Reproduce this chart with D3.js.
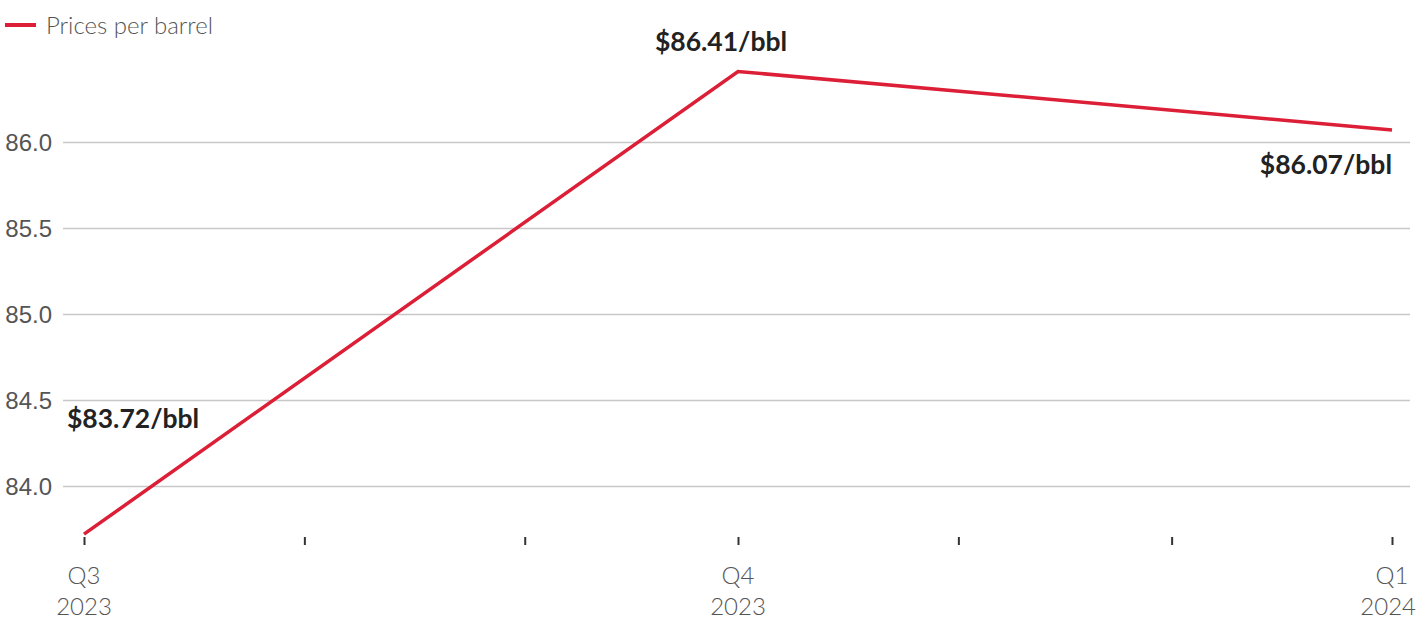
<!DOCTYPE html>
<html>
<head>
<meta charset="utf-8">
<script src="https://cdn.jsdelivr.net/npm/d3@7"></script>
<style>
  html, body { margin: 0; padding: 0; background: #fff; }
  svg { display: block; font-family: "Lato", "Open Sans", sans-serif; }
</style>
</head>
<body>
<svg id="chart" width="1417" height="621"></svg>
<script>
// ---- data ----
const dates = ["2023-07-01", "2023-10-01", "2024-01-01"];
const prices = [83.72, 86.41, 86.07];
const priceLabels = ["$83.72/bbl", "$86.41/bbl", "$86.07/bbl"];
const yTicks = [84.0, 84.5, 85.0, 85.5, 86.0];
const xLabelDates = ["2023-07-01", "2023-10-01", "2024-01-01"];
const xLabelLines = [["Q3", "2023"], ["Q4", "2023"], ["Q1", "2024"]];
const seriesName = "Prices per barrel";

const parse = d3.utcParse("%Y-%m-%d");
const data = dates.map((d, i) => ({ date: parse(d), value: prices[i], label: priceLabels[i] }));

const svg = d3.select("#chart");
const RED = "#dc1f36";
const W = 1417;

const x = d3.scaleUtc().domain([parse("2023-07-01"), parse("2024-01-01")]).range([84, 1392]);
const y = d3.scaleLinear().domain([84, 86]).range([486, 142]);

// gridlines + y labels
const yAxis = d3.axisLeft(y).tickValues(yTicks).tickFormat(d3.format(".1f"))
  .tickSize(-(1410 - 63)).tickPadding(11);
const gy = svg.append("g").attr("transform", "translate(63,0)").call(yAxis);
gy.select(".domain").remove();
gy.selectAll(".tick line").attr("stroke", "#c8c8c8").attr("stroke-width", 1.5);
gy.selectAll(".tick text").attr("fill", "#555").style("font-size", "24px")
  .style("font-weight", 300).attr("dy", "0.34em");

// x axis monthly ticks
const xAxis = d3.axisBottom(x).ticks(d3.utcMonth.every(1)).tickSize(8).tickFormat("");
const gx = svg.append("g").attr("transform", "translate(0,537)").call(xAxis);
gx.select(".domain").remove();
gx.selectAll(".tick line").attr("stroke", "#333").attr("stroke-width", 2);

// x labels (two lines), kept inside the canvas
const xl = svg.append("g").selectAll("text").data(xLabelDates).join("text")
  .attr("text-anchor", "middle")
  .attr("fill", "#555")
  .style("font-size", "24px").style("font-weight", 300);
xl.each(function(d, i) {
  const t = d3.select(this);
  const cx = x(parse(d));
  const a = t.append("tspan").attr("x", cx).attr("y", 584).text(xLabelLines[i][0]);
  const b = t.append("tspan").attr("x", cx).attr("y", 615).text(xLabelLines[i][1]);
  [a, b].forEach(s => {
    const w = s.node().getComputedTextLength();
    if (cx + w / 2 > W - 1) s.attr("x", W - 1 - w / 2);
  });
});

// line
const line = d3.line().x(d => x(d.date)).y(d => y(d.value));
svg.append("path").datum(data).attr("d", line)
  .attr("fill", "none").attr("stroke", RED).attr("stroke-width", 3.5)
  .attr("stroke-linejoin", "miter");

// value labels
const anchors = ["start", "middle", "end"];
const dxs = [-17, -17, 0];
const dys = [-106, -20, 44];
svg.append("g").selectAll("text").data(data).join("text")
  .attr("x", (d, i) => x(d.date) + dxs[i])
  .attr("y", (d, i) => y(d.value) + dys[i])
  .attr("text-anchor", (d, i) => anchors[i])
  .attr("fill", "#222")
  .style("font-size", "26.5px").style("font-weight", 700)
  .text(d => d.label);

// legend
const lg = svg.append("g");
lg.append("line").attr("x1", 5).attr("x2", 36).attr("y1", 25).attr("y2", 25)
  .attr("stroke", RED).attr("stroke-width", 4);
lg.append("text").attr("x", 46).attr("y", 34).attr("fill", "#555")
  .style("font-size", "24px").style("font-weight", 300).text(seriesName);
</script>
</body>
</html>
